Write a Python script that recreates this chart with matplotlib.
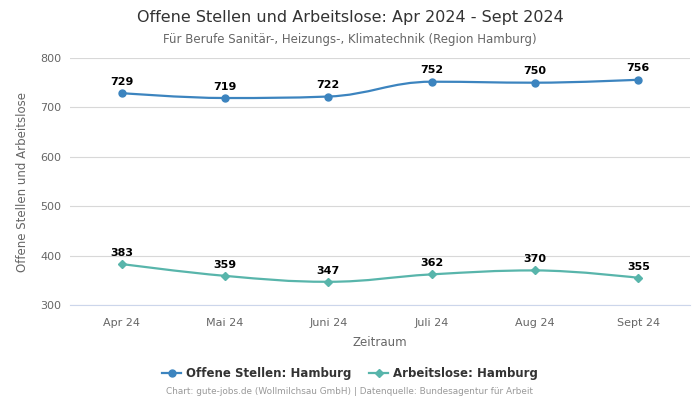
import matplotlib
matplotlib.use("Agg")
import matplotlib.pyplot as plt
from matplotlib.path import Path
from matplotlib.patches import PathPatch
from matplotlib.lines import Line2D
import numpy as np

categories = ["Apr 24", "Mai 24", "Juni 24", "Juli 24", "Aug 24", "Sept 24"]
offene_stellen = [729, 719, 722, 752, 750, 756]
arbeitslose = [383, 359, 347, 362, 370, 355]
yticks = [300, 400, 500, 600, 700, 800]

c_blue = "#3c84bf"
c_teal = "#58b5ab"


def spline_path(xs, ys, smoothing=1.5):
    n = len(xs)
    denom = smoothing + 1
    lc = [None] * n
    rc = [None] * n
    for i in range(1, n - 1):
        px, py = xs[i], ys[i]
        lx, ly = xs[i - 1], ys[i - 1]
        nx, ny = xs[i + 1], ys[i + 1]
        lcx = (smoothing * px + lx) / denom
        lcy = (smoothing * py + ly) / denom
        rcx = (smoothing * px + nx) / denom
        rcy = (smoothing * py + ny) / denom
        if rcx != lcx:
            corr = ((rcy - lcy) * (rcx - px)) / (rcx - lcx) + py - rcy
            lcy += corr
            rcy += corr
        if lcy > ly and lcy > py:
            lcy = max(ly, py); rcy = 2 * py - lcy
        elif lcy < ly and lcy < py:
            lcy = min(ly, py); rcy = 2 * py - lcy
        if rcy > ny and rcy > py:
            rcy = max(ny, py); lcy = 2 * py - rcy
        elif rcy < ny and rcy < py:
            rcy = min(ny, py); lcy = 2 * py - rcy
        lc[i] = (lcx, lcy)
        rc[i] = (rcx, rcy)
    verts = [(xs[0], ys[0])]
    codes = [Path.MOVETO]
    for i in range(1, n):
        c1 = rc[i - 1] if rc[i - 1] is not None else (xs[i - 1], ys[i - 1])
        c2 = lc[i] if lc[i] is not None else (xs[i], ys[i])
        verts += [c1, c2, (xs[i], ys[i])]
        codes += [Path.CURVE4] * 3
    return Path(verts, codes)


fig = plt.figure(figsize=(7, 4), dpi=100)
ax = fig.add_axes([0.1, 0.2375, 0.8857, 0.6175])
x = np.arange(len(categories))

for vals, col, mk, ms in [(offene_stellen, c_blue, "o", 5), (arbeitslose, c_teal, "D", 3.6)]:
    p = spline_path(list(x.astype(float)), [float(v) for v in vals])
    ax.add_patch(PathPatch(p, facecolor="none", edgecolor=col, lw=1.6, zorder=3))
    ax.plot(x, vals, linestyle="none", marker=mk, markersize=ms, color=col, zorder=4)
    for xi, v in zip(x, vals):
        ax.annotate(str(v), (xi, v), xytext=(0, 4.5), textcoords="offset points",
                    ha="center", va="bottom", fontsize=8, fontweight="bold", color="#000000", zorder=5)

ax.set_xlim(-0.5, len(categories) - 0.5)
ax.set_ylim(300, 800)
ax.set_yticks(yticks)
ax.set_xticks(x)
ax.set_xticklabels(categories)
ax.grid(axis="y", color="#d8d8d8", lw=0.8)
ax.set_axisbelow(True)
for s in ["top", "right", "left"]:
    ax.spines[s].set_visible(False)
ax.spines["bottom"].set_color("#ccd6eb")
ax.tick_params(axis="both", length=0, labelsize=8, labelcolor="#666666", pad=6)
ax.tick_params(axis="x", pad=9)
ax.set_xlabel("Zeitraum", fontsize=8.5, color="#666666", labelpad=6)
ax.set_ylabel("Offene Stellen und Arbeitslose", fontsize=8.5, color="#666666", labelpad=8)

fig.text(0.5, 0.956, "Offene Stellen und Arbeitslose: Apr 2024 - Sept 2024", ha="center", va="center",
         fontsize=11.5, color="#333333")
fig.text(0.5, 0.902, "Für Berufe Sanitär-, Heizungs-, Klimatechnik (Region Hamburg)", ha="center", va="center",
         fontsize=8.5, color="#666666")

handles = [Line2D([0], [0], color=c_blue, lw=1.6, marker="o", markersize=5),
           Line2D([0], [0], color=c_teal, lw=1.6, marker="D", markersize=3.6)]
fig.legend(handles, ["Offene Stellen: Hamburg", "Arbeitslose: Hamburg"], loc="center",
           bbox_to_anchor=(0.5, 0.066), ncol=2, frameon=False, handlelength=1.6,
           columnspacing=1.5, handletextpad=0.4, prop={"size": 8.5, "weight": "bold"},
           labelcolor="#333333")
fig.text(0.5, 0.02, "Chart: gute-jobs.de (Wollmilchsau GmbH) | Datenquelle: Bundesagentur für Arbeit",
         ha="center", va="center", fontsize=6.4, color="#999999")

fig.savefig("out.png", dpi=100)
